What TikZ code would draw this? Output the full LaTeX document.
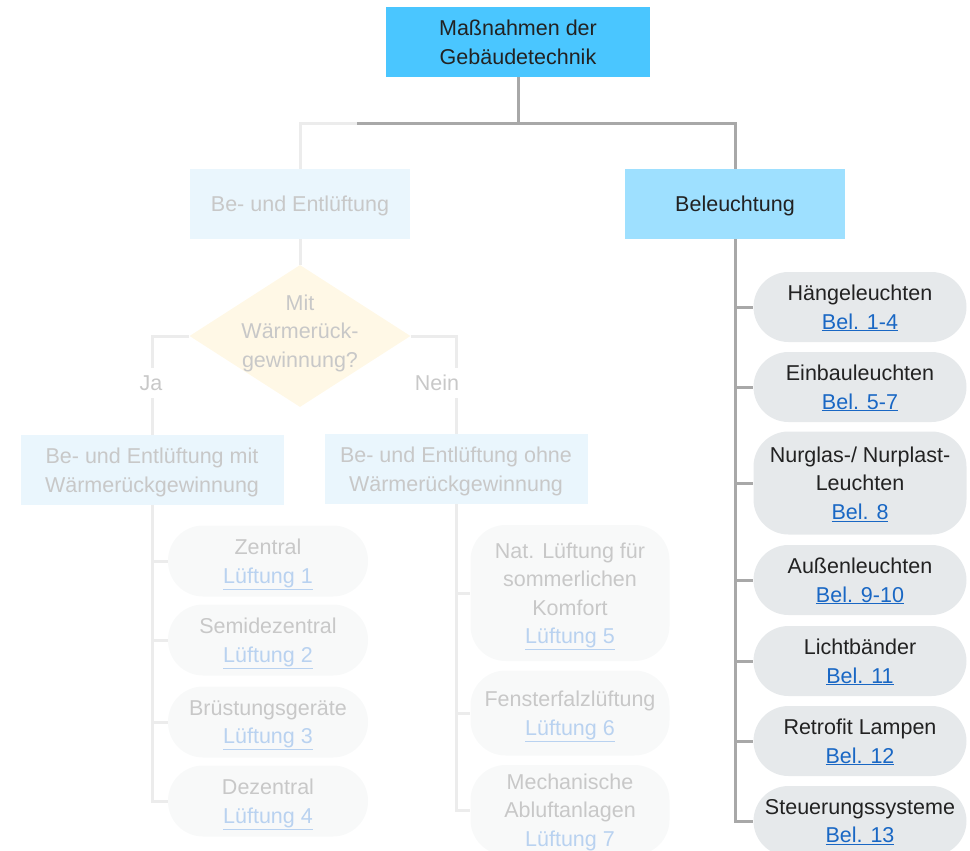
\documentclass[tikz,border=0pt]{standalone}
\usepackage{fontspec}
\setmainfont{Liberation Sans}
\usetikzlibrary{shapes.geometric}
\definecolor{top-color}{RGB}{74,198,255}
\definecolor{light-color}{RGB}{158,224,255}
\definecolor{pale-color}{RGB}{234,246,253}
\definecolor{ask-color}{RGB}{255,248,230}
\definecolor{pill-color}{RGB}{230,233,235}
\definecolor{palepill-color}{RGB}{248,249,249}
\definecolor{link-color}{RGB}{25,103,196}
\definecolor{palelink-color}{RGB}{185,210,240}
\definecolor{text-color}{RGB}{34,34,34}
\definecolor{paletext-color}{RGB}{200,200,200}
\definecolor{line-color}{RGB}{168,168,168}
\definecolor{paleline-color}{RGB}{236,236,236}
\newcommand{\bellink}[1]{\textcolor{link-color}{\underline{#1}}}
\newcommand{\luftlink}[1]{\textcolor{palelink-color}{\underline{#1}}}

\begin{document}
\begin{tikzpicture}[x=1pt, y=-1pt,
    every node/.style={font=\fontsize{21.5}{28.5}\selectfont, align=center, inner sep=0pt, text depth=0pt},
    box/.style={rectangle, fill=#1, text=text-color, minimum height=70pt},
    palebox/.style={rectangle, fill=pale-color, text=paletext-color, minimum height=70pt},
    decision/.style={diamond, fill=ask-color, minimum width=221pt, minimum height=142pt, inner sep=0pt},
    pill/.style={rectangle, rounded corners=35pt, fill=pill-color, text=text-color, minimum width=213pt, minimum height=#1},
    pill/.default=70pt,
    palepill/.style={rectangle, rounded corners=35pt, fill=palepill-color, text=paletext-color, minimum height=#1},
    palepill/.default=71pt,
    conn/.style={line-color, line width=3pt},
    paleconn/.style={paleline-color, line width=3pt},
    answer/.style={fill=white, text=paletext-color, inner sep=3pt, minimum height=30pt}]

    \clip (0,0) rectangle (970,851);

    % Top and the two categories
    \node[box=top-color, minimum width=264pt] (top) at (518,42) {Maßnahmen der\\Gebäudetechnik};
    \node[palebox, minimum width=220pt] (be) at (300,204) {Be- und Entlüftung};
    \node[box=light-color, minimum width=220pt] (bel) at (735,204) {Beleuchtung};

    % Ventilation branch (faded)
    \node[decision] (ask) at (300,336) {};
    \node[text=paletext-color] (asktext) at (300,331) {Mit\\Wärmerück-\\gewinnung?};
    \node[palebox, minimum width=263pt] (mit) at (152,470) {Be- und Entlüftung mit\\Wärmerückgewinnung};
    \node[palebox, minimum width=263pt] (ohne) at (456,469) {Be- und Entlüftung ohne\\Wärmerückgewinnung};

    \node[palepill, minimum width=200pt] (zen) at (268,561) {Zentral\\\luftlink{Lüftung 1}};
    \node[palepill, minimum width=200pt] (semi) at (268,640) {Semidezentral\\\luftlink{Lüftung 2}};
    \node[palepill, minimum width=200pt] (bru) at (268,722) {Brüstungsgeräte\\\luftlink{Lüftung 3}};
    \node[palepill, minimum width=200pt] (dez) at (268,801) {Dezentral\\\luftlink{Lüftung 4}};

    \node[palepill=136pt, minimum width=199pt] (nat) at (570,593) {Nat. Lüftung für\\sommerlichen\\Komfort\\\luftlink{Lüftung 5}};
    \node[palepill=85pt, minimum width=199pt] (falz) at (570,713) {Fensterfalzlüftung\\\luftlink{Lüftung 6}};
    \node[palepill=90pt, minimum width=199pt] (mech) at (570,810) {Mechanische\\Abluftanlagen\\\luftlink{Lüftung 7}};

    % Lighting branch
    \node[pill] (haeng) at (860,307) {Hängeleuchten\\\bellink{Bel. 1-4}};
    \node[pill] (einbau) at (860,387) {Einbauleuchten\\\bellink{Bel. 5-7}};
    \node[pill=103pt] (glas) at (860,483) {Nurglas-/ Nurplast-\\Leuchten\\\bellink{Bel. 8}};
    \node[pill] (aussen) at (860,580) {Außenleuchten\\\bellink{Bel. 9-10}};
    \node[pill] (licht) at (860,661) {Lichtbänder\\\bellink{Bel. 11}};
    \node[pill] (retro) at (860,741) {Retrofit Lampen\\\bellink{Bel. 12}};
    \node[pill] (steuer) at (860,821) {Steuerungssysteme\\\bellink{Bel. 13}};

    % Connectors from the top
    \coordinate (split) at (357,123);
    \draw[paleconn] (be.north) |- (split);
    \draw[conn] (top.south) -- (top.south |- split);
    \draw[conn] (split) -| (bel.north);

    % Faded connectors
    \draw[paleconn] (be.south) -- (ask.north);
    \draw[paleconn] (ask.west) -| (mit.north);
    \draw[paleconn] (ask.east) -| (ohne.north);
    \foreach \n in {zen, semi, bru, dez}
        \draw[paleconn] (mit.south) |- (\n.west);
    \foreach \n in {nat, falz, mech}
        \draw[paleconn] (ohne.south) |- (\n.west);

    % Lighting connectors
    \foreach \n in {haeng, einbau, glas, aussen, licht, retro, steuer}
        \draw[conn] (bel.south) |- (\n.west);

    % Answer labels on the decision lines
    \node[answer] (ja) at (151,383) {Ja};
    \node[answer] (nein) at (437,383) {Nein};
\end{tikzpicture}
\end{document}
